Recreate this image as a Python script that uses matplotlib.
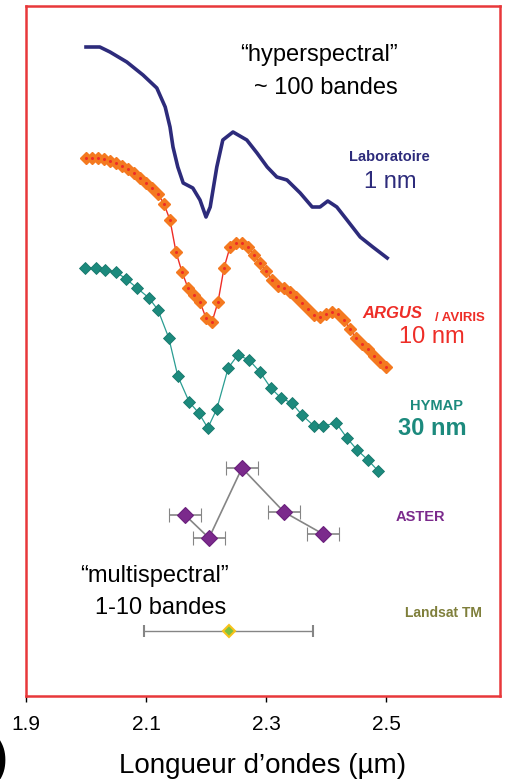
import matplotlib.pyplot as plt

plt.rcParams["font.family"] = ["Liberation Sans", "DejaVu Sans"]

# --- spectra (offset reflectance, arbitrary units) ---
LAB_WL = [2.000, 2.023, 2.040, 2.068, 2.095, 2.118, 2.132, 2.140, 2.145, 2.153,
          2.162, 2.178, 2.190, 2.200, 2.207, 2.218, 2.228, 2.245, 2.268, 2.285,
          2.302, 2.318, 2.335, 2.357, 2.377, 2.390, 2.403, 2.418, 2.435, 2.457,
          2.478, 2.502]
LAB_R = [6.49, 6.49, 6.44, 6.34, 6.21, 6.08, 5.89, 5.69, 5.49, 5.29,
         5.13, 5.08, 4.96, 4.79, 4.89, 5.29, 5.56, 5.64, 5.56, 5.43,
         5.29, 5.19, 5.16, 5.03, 4.89, 4.89, 4.95, 4.89, 4.76, 4.59,
         4.49, 4.38]

ARGUS_WL = [2.00, 2.01, 2.02, 2.03, 2.04, 2.05, 2.06, 2.07, 2.08, 2.09,
            2.10, 2.11, 2.12, 2.13, 2.14, 2.15, 2.16, 2.17, 2.18, 2.19,
            2.20, 2.21, 2.22, 2.23, 2.24, 2.25, 2.26, 2.27, 2.28, 2.29,
            2.30, 2.31, 2.32, 2.33, 2.34, 2.35, 2.36, 2.37, 2.38, 2.39,
            2.40, 2.41, 2.42, 2.43, 2.44, 2.45, 2.46, 2.47, 2.48, 2.49, 2.50]
ARGUS_R = [5.38, 5.38, 5.38, 5.37, 5.35, 5.33, 5.30, 5.27, 5.23, 5.18,
           5.13, 5.08, 5.02, 4.92, 4.76, 4.44, 4.24, 4.08, 4.01, 3.94,
           3.78, 3.74, 3.94, 4.28, 4.49, 4.53, 4.53, 4.49, 4.41, 4.33,
           4.25, 4.16, 4.10, 4.08, 4.04, 3.99, 3.93, 3.87, 3.81, 3.79,
           3.82, 3.84, 3.82, 3.76, 3.67, 3.58, 3.52, 3.47, 3.40, 3.34, 3.29]

HYMAP_WL = [1.998, 2.017, 2.032, 2.050, 2.067, 2.085, 2.105, 2.120, 2.138, 2.153,
            2.172, 2.188, 2.203, 2.218, 2.237, 2.253, 2.272, 2.290, 2.308, 2.325,
            2.343, 2.360, 2.380, 2.395, 2.417, 2.435, 2.452, 2.470, 2.487]
HYMAP_R = [4.28, 4.28, 4.26, 4.24, 4.17, 4.08, 3.98, 3.86, 3.58, 3.20,
           2.94, 2.83, 2.68, 2.87, 3.28, 3.41, 3.36, 3.24, 3.08, 2.98,
           2.93, 2.81, 2.70, 2.70, 2.73, 2.58, 2.46, 2.36, 2.25]

ASTER_WL = [2.165, 2.205, 2.260, 2.330, 2.395]
ASTER_R = [1.81, 1.58, 2.28, 1.84, 1.62]
ASTER_HALFWIDTH = [0.026, 0.026, 0.026, 0.026, 0.026]

TM_WL = [2.238]
TM_R = [0.65]
TM_HALFWIDTH = [0.141]

XTICKS = [1.9, 2.1, 2.3, 2.5]

NAVY = "#2d2b7b"
ORANGE = "#f47920"
RED = "#ee2d27"
TEAL = "#1c8a7d"
PURPLE = "#7b2a8c"
GREY = "#858585"
FRAME = "#e8383a"

fig = plt.figure(figsize=(5.06, 7.79), dpi=100)
ax = fig.add_axes([26 / 506, 1 - 696 / 779, 474 / 506, 690 / 779])

ax.plot(LAB_WL, LAB_R, color=NAVY, lw=2.6, solid_joinstyle="round")

ax.plot(ARGUS_WL, ARGUS_R, color=RED, lw=1.0, zorder=2)
ax.plot(ARGUS_WL, ARGUS_R, ls="none", marker="D", ms=6.5, mfc=ORANGE,
        mec=ORANGE, zorder=3)
ax.plot(ARGUS_WL, ARGUS_R, ls="none", marker="o", ms=2.2, mfc=RED,
        mec="none", zorder=4)

ax.plot(HYMAP_WL, HYMAP_R, color="#2a9d92", lw=0.9, marker="D", ms=6.3,
        mfc=TEAL, mec="#17766b", mew=0.6)

ax.errorbar(ASTER_WL, ASTER_R, xerr=ASTER_HALFWIDTH, color=GREY, lw=1.2,
            elinewidth=1.2, capsize=5, capthick=1.2, marker="D", ms=8,
            mfc=PURPLE, mec="#6a1f7c", mew=0.8, zorder=3)

ax.errorbar(TM_WL, TM_R, xerr=TM_HALFWIDTH, color=GREY, lw=1.0,
            elinewidth=1.0, capsize=4.5, capthick=1.0, marker="D", ms=6,
            mfc="#7cc142", mec="#f7c21a", mew=1.5, zorder=3)

ax.set_xlim(1.9, 2.69)
ax.set_ylim(0, 6.9)
ax.set_xticks(XTICKS)
ax.set_xticklabels([f"{t:.1f}" for t in XTICKS], fontsize=15)
ax.set_yticks([])
ax.tick_params(axis="x", length=4.5, width=1.0, color="black", pad=9)
for sp in ax.spines.values():
    sp.set_color(FRAME)
    sp.set_linewidth(1.8)
ax.set_xlabel("Longueur d\u2019ondes (\u00b5m)", fontsize=20, labelpad=14)

t = ax.transAxes
ax.text(0.618, 0.929, "\u201chyperspectral\u201d", transform=t, ha="center",
        va="center", fontsize=17)
ax.text(0.633, 0.881, "~ 100 bandes", transform=t, ha="center", va="center",
        fontsize=17)
ax.text(0.766, 0.781, "Laboratoire", transform=t, ha="center", va="center",
        fontsize=10.5, fontweight="bold", color=NAVY)
ax.text(0.768, 0.745, "1 nm", transform=t, ha="center", va="center",
        fontsize=17, color=NAVY)
ax.text(0.709, 0.554, "ARGUS", transform=t, ha="left", va="center",
        fontsize=12, fontweight="bold", fontstyle="italic", color=RED)
ax.text(0.863, 0.548, "/ AVIRIS", transform=t, ha="left", va="center",
        fontsize=9.5, fontweight="bold", color=RED)
ax.text(0.857, 0.520, "10 nm", transform=t, ha="center", va="center",
        fontsize=17, color=RED)
ax.text(0.865, 0.420, "HYMAP", transform=t, ha="center", va="center",
        fontsize=10.5, fontweight="bold", color=TEAL)
ax.text(0.857, 0.388, "30 nm", transform=t, ha="center", va="center",
        fontsize=17, fontweight="bold", color=TEAL)
ax.text(0.833, 0.259, "ASTER", transform=t, ha="center", va="center",
        fontsize=10.5, fontweight="bold", color=PURPLE)
ax.text(0.880, 0.120, "Landsat TM", transform=t, ha="center", va="center",
        fontsize=10, fontweight="bold", color="#7f7f3b")
ax.text(0.272, 0.174, "\u201cmultispectral\u201d", transform=t, ha="center",
        va="center", fontsize=17)
ax.text(0.283, 0.128, "1-10 bandes", transform=t, ha="center", va="center",
        fontsize=17)

# leftover panel label, clipped at the page edge as in the original figure
fig.text(0.016, 0.025, ")", ha="right", va="center", fontsize=34,
         fontweight="bold")

fig.savefig("out.png", dpi=100)
